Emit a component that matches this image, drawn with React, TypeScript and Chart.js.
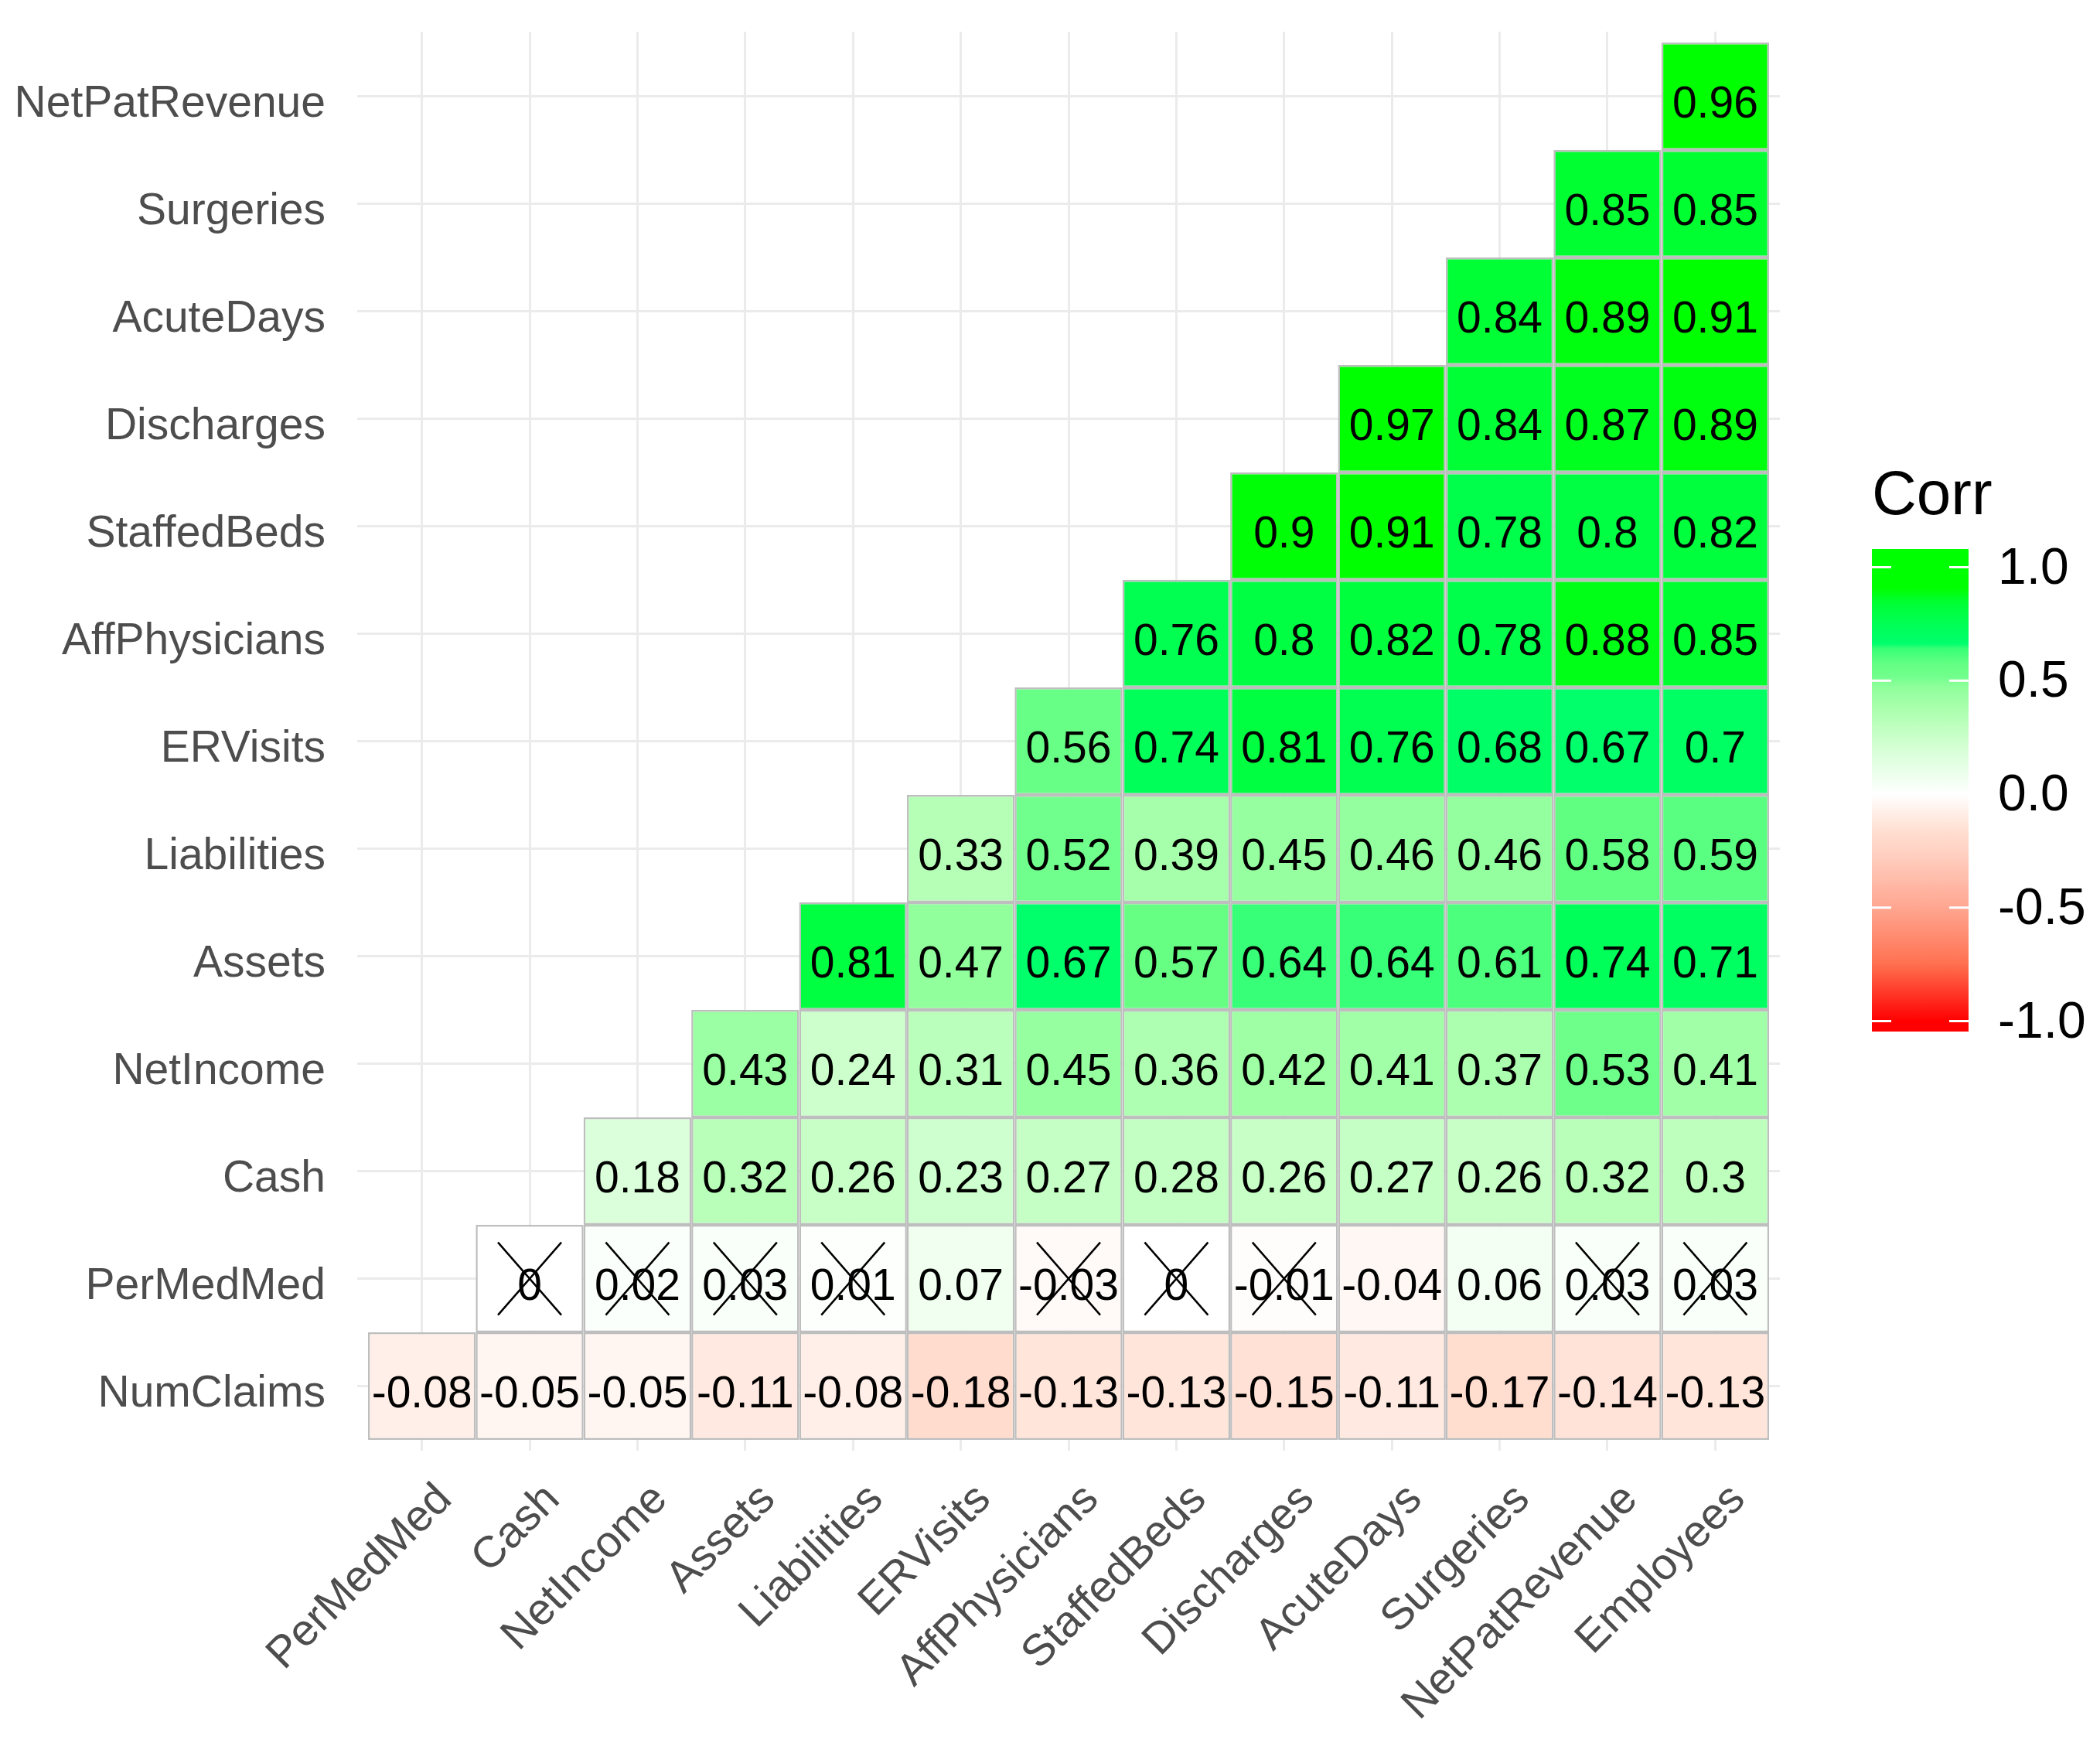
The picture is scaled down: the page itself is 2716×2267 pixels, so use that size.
import React, { useEffect, useRef } from 'react';
import { Chart, registerables } from 'chart.js';

Chart.register(...registerables);

// ---- data ----
const columnLabels = ['PerMedMed', 'Cash', 'NetIncome', 'Assets', 'Liabilities', 'ERVisits', 'AffPhysicians', 'StaffedBeds', 'Discharges', 'AcuteDays', 'Surgeries', 'NetPatRevenue', 'Employees'];
const rowLabels = ['NumClaims', 'PerMedMed', 'Cash', 'NetIncome', 'Assets', 'Liabilities', 'ERVisits', 'AffPhysicians', 'StaffedBeds', 'Discharges', 'AcuteDays', 'Surgeries', 'NetPatRevenue'];

// each row starts at the column whose index equals the row index (lower triangle)
const numClaims = [-0.08, -0.05, -0.05, -0.11, -0.08, -0.18, -0.13, -0.13, -0.15, -0.11, -0.17, -0.14, -0.13];
const perMedMed = [0, 0.02, 0.03, 0.01, 0.07, -0.03, 0, -0.01, -0.04, 0.06, 0.03, 0.03];
const cash = [0.18, 0.32, 0.26, 0.23, 0.27, 0.28, 0.26, 0.27, 0.26, 0.32, 0.3];
const netIncome = [0.43, 0.24, 0.31, 0.45, 0.36, 0.42, 0.41, 0.37, 0.53, 0.41];
const assets = [0.81, 0.47, 0.67, 0.57, 0.64, 0.64, 0.61, 0.74, 0.71];
const liabilities = [0.33, 0.52, 0.39, 0.45, 0.46, 0.46, 0.58, 0.59];
const erVisits = [0.56, 0.74, 0.81, 0.76, 0.68, 0.67, 0.7];
const affPhysicians = [0.76, 0.8, 0.82, 0.78, 0.88, 0.85];
const staffedBeds = [0.9, 0.91, 0.78, 0.8, 0.82];
const discharges = [0.97, 0.84, 0.87, 0.89];
const acuteDays = [0.84, 0.89, 0.91];
const surgeries = [0.85, 0.85];
const netPatRevenue = [0.96];
const perMedMedInsignificant = [true, true, true, true, false, true, true, true, false, false, true, true];

const legendTicks = [1, 0.5, 0, -0.5, -1];
const legendTickLabels = ['1.0', '0.5', '0.0', '-0.5', '-1.0'];

// ---- styles ----
const FONT = '"Liberation Sans", Arial, Helvetica, sans-serif';
const COLOR_STOPS: [number, number[]][] = [
  [-1, [255, 0, 0]],
  [-0.75, [255, 112, 80]],
  [-0.5, [255, 166, 144]],
  [-0.25, [255, 210, 196]],
  [-0.18, [255, 220, 206]],
  [-0.13, [255, 229, 218]],
  [-0.08, [255, 239, 232]],
  [-0.03, [255, 249, 247]],
  [0, [255, 255, 255]],
  [0.07, [240, 255, 240]],
  [0.18, [218, 255, 218]],
  [0.3, [190, 255, 190]],
  [0.39, [166, 255, 170]],
  [0.47, [144, 255, 156]],
  [0.52, [112, 255, 140]],
  [0.57, [102, 255, 132]],
  [0.61, [76, 255, 124]],
  [0.645, [52, 255, 118]],
  [0.66, [0, 255, 108]],
  [0.74, [0, 255, 88]],
  [0.81, [0, 255, 64]],
  [0.85, [0, 255, 48]],
  [0.89, [0, 255, 14]],
  [0.91, [0, 255, 0]],
  [1, [0, 255, 0]],
];

function corrColor(v: number): string {
  if (v <= COLOR_STOPS[0][0]) return `rgb(${COLOR_STOPS[0][1].join(',')})`;
  for (let i = 1; i < COLOR_STOPS.length; i++) {
    const [v1, c1] = COLOR_STOPS[i];
    const [v0, c0] = COLOR_STOPS[i - 1];
    if (v <= v1) {
      const t = (v - v0) / (v1 - v0);
      const c = c0.map((a, k) => Math.round(a + (c1[k] - a) * t));
      return `rgb(${c.join(',')})`;
    }
  }
  return `rgb(${COLOR_STOPS[COLOR_STOPS.length - 1][1].join(',')})`;
}

const rowValues = [numClaims, perMedMed, cash, netIncome, assets, liabilities, erVisits, affPhysicians, staffedBeds, discharges, acuteDays, surgeries, netPatRevenue];

type Cell = { x: number; y: [number, number]; v: number; cross: boolean };

function buildCells(): Cell[] {
  const cells: Cell[] = [];
  rowValues.forEach((vals, r) => {
    vals.forEach((v, k) => {
      cells.push({ x: r + k, y: [r - 0.5, r + 0.5], v, cross: r === 1 && perMedMedInsignificant[k] });
    });
  });
  return cells;
}

const cellLabelPlugin = {
  id: 'cellLabels',
  afterDatasetsDraw(chart: any) {
    const meta = chart.getDatasetMeta(0);
    const data = chart.data.datasets[0].data as Cell[];
    const ctx = chart.ctx as CanvasRenderingContext2D;
    ctx.save();
    ctx.font = `57px ${FONT}`;
    ctx.fillStyle = '#000000';
    ctx.textAlign = 'center';
    ctx.textBaseline = 'middle';
    meta.data.forEach((el: any, i: number) => {
      const d = data[i];
      const p = el.getProps(['x', 'y', 'base'], true);
      const cy = (p.y + p.base) / 2;
      ctx.fillText(String(d.v), p.x, cy + 12);
      if (d.cross) {
        const hx = 41;
        const hy = 47;
        ctx.strokeStyle = '#000000';
        ctx.lineWidth = 2.5;
        ctx.beginPath();
        ctx.moveTo(p.x - hx, cy - hy);
        ctx.lineTo(p.x + hx, cy + hy);
        ctx.moveTo(p.x + hx, cy - hy);
        ctx.lineTo(p.x - hx, cy + hy);
        ctx.stroke();
      }
    });
    ctx.restore();
  },
};

const colorbarPlugin = {
  id: 'colorbarLegend',
  afterDraw(chart: any) {
    const ctx = chart.ctx as CanvasRenderingContext2D;
    const barLeft = 2421;
    const barWidth = 125;
    const barTop = 710;
    const barBottom = 1334;
    const mid = 1027;
    const unit = 293.5;
    const yFor = (v: number) => mid - v * unit;
    ctx.save();
    ctx.font = `80px ${FONT}`;
    ctx.fillStyle = '#000000';
    ctx.textAlign = 'left';
    ctx.textBaseline = 'alphabetic';
    ctx.fillText('Corr', barLeft, 665);

    const grad = ctx.createLinearGradient(0, barTop, 0, barBottom);
    const n = 200;
    for (let i = 0; i <= n; i++) {
      const y = barTop + ((barBottom - barTop) * i) / n;
      const v = Math.max(-1, Math.min(1, (mid - y) / unit));
      grad.addColorStop(i / n, corrColor(v));
    }
    ctx.fillStyle = grad;
    ctx.fillRect(barLeft, barTop, barWidth, barBottom - barTop);

    ctx.strokeStyle = '#FFFFFF';
    ctx.lineWidth = 3;
    const tick = barWidth / 5;
    legendTicks.forEach((v) => {
      const y = yFor(v);
      ctx.beginPath();
      ctx.moveTo(barLeft, y);
      ctx.lineTo(barLeft + tick, y);
      ctx.moveTo(barLeft + barWidth - tick, y);
      ctx.lineTo(barLeft + barWidth, y);
      ctx.stroke();
    });

    ctx.font = `66px ${FONT}`;
    ctx.fillStyle = '#000000';
    ctx.textBaseline = 'middle';
    legendTicks.forEach((v, i) => {
      ctx.fillText(legendTickLabels[i], 2584, yFor(v) + 3);
    });
    ctx.restore();
  },
};

export default function App() {
  const canvasRef = useRef<HTMLCanvasElement | null>(null);

  useEffect(() => {
    if (!canvasRef.current) return;
    const cells = buildCells();
    const chart = new Chart(canvasRef.current, {
      type: 'bar',
      data: {
        datasets: [
          {
            data: cells as any,
            backgroundColor: (c: any) => (c.raw ? corrColor(c.raw.v) : '#fff'),
            borderColor: '#BEBEBE',
            borderWidth: 2.5,
            borderSkipped: false,
            inflateAmount: 0,
            barPercentage: 1,
            categoryPercentage: 1,
          } as any,
        ],
      },
      options: {
        animation: false,
        responsive: false,
        maintainAspectRatio: false,
        devicePixelRatio: 1,
        events: [],
        layout: { padding: { top: 41, right: 414, bottom: 0, left: 0 } },
        plugins: { legend: { display: false }, tooltip: { enabled: false }, title: { display: false } },
        scales: {
          x: {
            type: 'linear',
            min: -0.6,
            max: 12.6,
            offset: false,
            border: { display: false },
            grid: { color: '#EBEBEB', lineWidth: 3, drawTicks: false, offset: false },
            ticks: {
              stepSize: 1,
              includeBounds: false,
              autoSkip: false,
              minRotation: 45,
              maxRotation: 45,
              padding: 30,
              labelOffset: 30,
              color: '#4D4D4D',
              font: { family: FONT, size: 57 },
              callback: (value: any) => columnLabels[Math.round(Number(value))] ?? '',
            },
            afterFit: (scale: any) => {
              scale.height = 391;
              scale.paddingLeft = 0;
              scale.paddingRight = 0;
              scale.paddingTop = 0;
              scale.paddingBottom = 0;
            },
          },
          y: {
            type: 'linear',
            min: -0.6,
            max: 12.6,
            offset: false,
            border: { display: false },
            grid: { color: '#EBEBEB', lineWidth: 3, drawTicks: false, offset: false },
            ticks: {
              stepSize: 1,
              includeBounds: false,
              autoSkip: false,
              padding: 41,
              labelOffset: 11,
              color: '#4D4D4D',
              font: { family: FONT, size: 57 },
              callback: (value: any) => rowLabels[Math.round(Number(value))] ?? '',
            },
            afterFit: (scale: any) => {
              scale.width = 462;
              scale.paddingLeft = 0;
              scale.paddingRight = 0;
              scale.paddingTop = 0;
              scale.paddingBottom = 0;
            },
          },
        },
      } as any,
      plugins: [cellLabelPlugin, colorbarPlugin],
    });
    return () => chart.destroy();
  }, []);

  return (
    <div style={{ position: 'absolute', left: 0, top: 0, width: 2716, height: 2267, background: '#FFFFFF' }}>
      <canvas ref={canvasRef} width={2716} height={2267} style={{ display: 'block', width: 2716, height: 2267 }} />
    </div>
  );
}
